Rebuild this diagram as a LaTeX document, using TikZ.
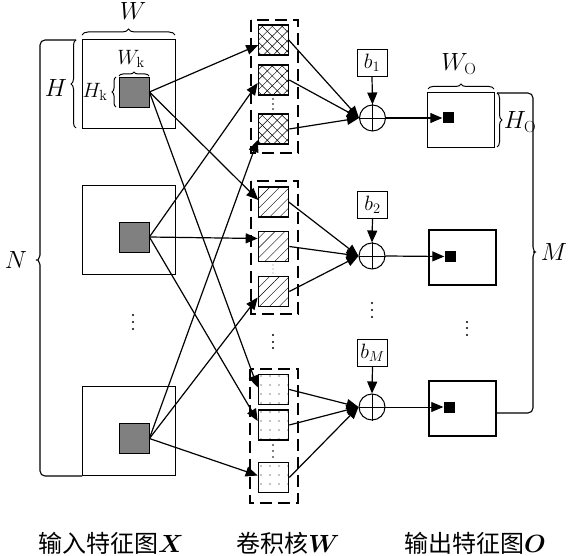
\documentclass[tikz,border=0pt]{standalone}
\usepackage{fontspec}
\usepackage{amsmath,bm}
\newfontfamily\cjk{Noto Sans CJK SC}
\usetikzlibrary{arrows.meta,patterns.meta,decorations.pathreplacing,calc}
\begin{document}
\begin{tikzpicture}[x=1pt,y=-1pt,
  inbox/.style={draw, line width=0.9pt, minimum width=93pt, minimum height=89pt, inner sep=0pt},
  graysq/.style={draw, fill=gray, line width=0.8pt, minimum size=30pt, inner sep=0pt},
  kern/.style={draw, line width=1.6pt, minimum size=30pt, inner sep=0pt},
  kA/.style={kern, pattern={Lines[angle=45,distance=7pt,line width=0.5pt]},
             postaction={pattern={Lines[angle=-45,distance=7pt,line width=0.5pt]}}},
  kB/.style={kern, pattern={Lines[angle=45,distance=7pt,line width=0.4pt]}},
  kC/.style={kern, pattern={Dots[distance=9pt,radius=0.6pt]}},
  dashbox/.style={draw, dash pattern=on 12pt off 6pt, line width=1.3pt},
  sumc/.style={circle, draw, line width=1pt, minimum size=26pt, inner sep=0pt},
  bbox/.style={draw, line width=0.9pt, minimum width=30pt, minimum height=27pt, inner sep=0pt},
  obox/.style={draw, line width=1.1pt, minimum width=67pt, minimum height=55pt, inner sep=0pt},
  blk/.style={fill=black, minimum size=11pt, inner sep=0pt},
  arr/.style={-{Triangle[length=12pt,width=10pt]}, line width=1.2pt},
  brc/.style={decorate, decoration={brace, amplitude=5pt}, line width=1pt},
  lbl/.style={font=\fontsize{23}{26}\selectfont, inner sep=0pt},
  slbl/.style={font=\fontsize{21}{24}\selectfont, inner sep=0pt},
  blbl/.style={font=\fontsize{21}{24}\selectfont},
  captxt/.style={font=\cjk\fontsize{24}{28}\selectfont, inner sep=0pt},
  plus/.style={line width=0.8pt}
]
\useasboundingbox (0,0) rectangle (568,556);

% input feature maps
\node[inbox] (B1) at (128.5,84) {};
\node[inbox] (B2) at (129,229.5) {};
\node[inbox] (B3) at (129,431) {};
\node[graysq] (G1) at (134,92) {};
\node[graysq] (G2) at (134,237) {};
\node[graysq] (G3) at (134,438.5) {};
\foreach \yy in {315,322,329} \fill (133,\yy) circle (1.2pt);

% braces on input
\draw[brc, decoration={amplitude=6pt}] (82,35) -- (175,35);
\node[lbl] (lW) at (133,11) {$W$};
\draw[brc] (76,128) -- (76,40);
\node[lbl] (lH) at (56,88) {$H$};
\draw[brc, decoration={amplitude=4pt}] (119,76) -- (149,76);
\node[slbl] (lWk) at (131,59) {$W_{\mathrm{k}}$};
\draw[brc, decoration={amplitude=4pt}] (116,107) -- (116,77);
\node[slbl] (lHk) at (95,92) {$H_{\mathrm{k}}$};

% N bracket
\draw[line width=1.1pt, rounded corners=5pt] (76,40) -- (40,40) -- (40,250)
  .. controls (40,256) and (38,260) .. (33,260)
  .. controls (38,260) and (40,264) .. (40,270) -- (40,476) -- (82,476);
\node[lbl] (lN) at (16,260) {$N$};

% kernel groups
\draw[dashbox] (251,20) rectangle (298,153);
\draw[dashbox] (251,181) rectangle (298,314);
\draw[dashbox] (250,369) rectangle (298,503);
\node[kA] (k11) at (273.5,40) {};
\node[kA] (k12) at (273.5,80) {};
\node[kA] (k13) at (273.5,129) {};
\node[kB] (k21) at (273.5,202) {};
\node[kB] (k22) at (273.5,246.5) {};
\node[kB] (k23) at (273.5,291.5) {};
\node[kC] (k31) at (273.5,389.5) {};
\node[kC] (k32) at (273.5,425) {};
\node[kC] (k33) at (273.5,477.5) {};
\foreach \yy in {99,104,109} \fill (273,\yy) circle (0.9pt);
\foreach \yy in {265,269,273} \fill[gray] (273,\yy) circle (0.6pt);
\foreach \yy in {335,342,348} \fill (273,\yy) circle (1.2pt);
\foreach \yy in {445,451,457} \fill (273,\yy) circle (0.9pt);

% inputs to kernels
\draw[arr] (G1.east) -- ([yshift=-5pt]k11.west);
\draw[arr] (G1.east) -- ([yshift=2pt]k21.west);
\draw[arr] (G1.east) -- ([yshift=2pt]k31.west);
\draw[arr] (G2.east) -- ([yshift=-3pt]k12.west);
\draw[arr] (G2.east) -- ([yshift=8pt]k22.west);
\draw[arr] (G2.east) -- ([yshift=4pt]k32.west);
\draw[arr] (G3.east) -- ([yshift=-11pt]k13.west);
\draw[arr] (G3.east) -- ([yshift=-6pt]k23.west);
\draw[arr] (G3.east) -- ([yshift=2pt]k33.west);

% sums and biases
\node[sumc] (s1) at (372.5,118) {};
\node[sumc] (s2) at (372,256) {};
\node[sumc] (s3) at (372,407) {};
\foreach \s in {s1,s2,s3} \draw[plus] (\s.north) -- (\s.south) (\s.west) -- (\s.east);
\node[bbox, blbl] (b1) at (372,62.5) {$b_1$};
\node[bbox, blbl] (b2) at (372.5,205) {$b_2$};
\node[bbox, blbl] (b3) at (372.5,352.5) {$b_M$};
\draw[arr] (b1.south) -- (s1.north);
\draw[arr] (b2.south) -- (s2.north);
\draw[arr] (b3.south) -- (s3.north);
\foreach \yy in {303,310,317} \fill (372,\yy) circle (1.2pt);

% kernels to sums
\draw[arr] (k11.east) -- (s1.west);
\draw[arr] (k12.east) -- (s1.west);
\draw[arr] (k13.east) -- (s1.west);
\draw[arr] (k21.east) -- (s2.west);
\draw[arr] (k22.east) -- (s2.west);
\draw[arr] (k23.east) -- (s2.west);
\draw[arr] (k31.east) -- (s3.west);
\draw[arr] (k32.east) -- (s3.west);
\draw[arr] (k33.east) -- (s3.west);

% outputs
\node[obox] (O1) at (461,120) {};
\node[obox] (O2) at (462.5,257.5) {};
\node[obox] (O3) at (462.5,408.5) {};
\node[blk] (q1) at (448,118) {};
\node[blk] (q2) at (450,256.5) {};
\node[blk] (q3) at (449,407) {};
\draw[arr] (s1.east) -- (q1.west);
\draw[arr] (s2.east) -- (q2.west);
\draw[arr, line width=0.8pt] (s3.east) -- (q3.west);
\foreach \yy in {322,328,335} \fill (467,\yy) circle (1.2pt);

\draw[brc] (428,89) -- (494,89);
\node[lbl] (lWo) at (459,64) {$W_{\mathrm{O}}$};
\draw[brc] (497,93) -- (497,147);
\node[lbl] (lHo) at (520,122) {$H_{\mathrm{O}}$};

% M bracket
\draw[line width=1.1pt, rounded corners=5pt] (497,93) -- (533,93) -- (533,242)
  .. controls (533,248) and (535,252) .. (539,252)
  .. controls (535,252) and (533,256) .. (533,262) -- (533,413) -- (496,413);
\node[lbl] (lM) at (554,252) {$M$};

% captions
\node[captxt] (t1) at (111,543) {输入特征图$\bm{X}$};
\node[captxt] (t2) at (288,543) {卷积核$\bm{W}$};
\node[captxt] (t3) at (475,543) {输出特征图$\bm{O}$};
\end{tikzpicture}
\end{document}
